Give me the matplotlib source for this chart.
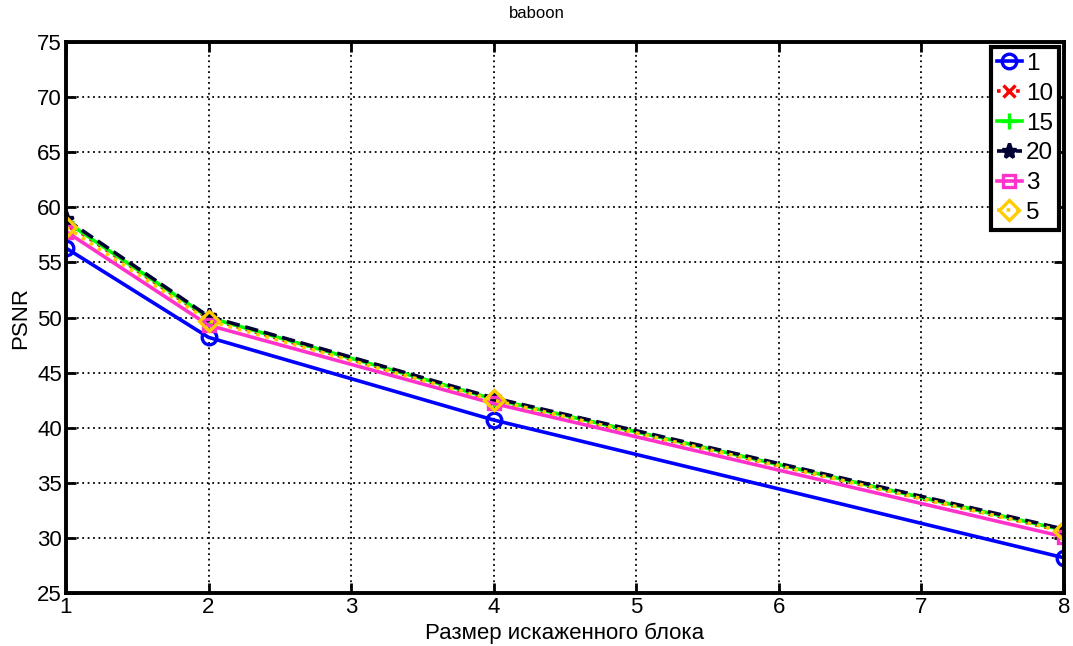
import matplotlib
matplotlib.use("Agg")
import matplotlib.pyplot as plt

plt.rcParams['font.family'] = ['Liberation Sans', 'DejaVu Sans']

block_sizes = [1, 2, 4, 8]
series_labels = ['1', '10', '15', '20', '3', '5']
psnr_1 = [56.3, 48.2, 40.7, 28.2]
psnr_10 = [58.6, 49.9, 42.5, 30.6]
psnr_15 = [58.7, 50.0, 42.6, 30.7]
psnr_20 = [58.9, 50.1, 42.7, 30.8]
psnr_3 = [57.8, 49.3, 42.2, 30.1]
psnr_5 = [58.2, 49.7, 42.5, 30.6]

x_ticks = [1, 2, 3, 4, 5, 6, 7, 8]
y_ticks = [25, 30, 35, 40, 45, 50, 55, 60, 65, 70, 75]

styles = [
    dict(color='#0000ff', linestyle='-', marker='o', mfc='none', markersize=10.5),
    dict(color='#ff0000', linestyle=':', marker='x', markersize=8.5),
    dict(color='#00ff00', linestyle='-', marker='+', markersize=11),
    dict(color='#000033', linestyle='--', marker='*', markersize=11),
    dict(color='#ff33cc', linestyle='-', marker='s', mfc='none', markersize=9),
    dict(color='#ffcc00', linestyle=':', marker='D', mfc='none', markersize=10.5),
]
all_series = [psnr_1, psnr_10, psnr_15, psnr_20, psnr_3, psnr_5]

fig = plt.figure(figsize=(10.73, 6.46), dpi=100)
ax = fig.add_axes([0.0615, 0.082, 0.930, 0.853])

for vals, lab, st in zip(all_series, series_labels, styles):
    ax.plot(block_sizes, vals, label=lab, linewidth=2.6,
            markeredgewidth=2.4, **st)

ax.set_xlim(1, 8)
ax.set_ylim(25, 75)
ax.set_xticks(x_ticks)
ax.set_yticks(y_ticks)
ax.grid(True, color='black', linestyle=(0, (1, 2)), linewidth=1.3)
ax.tick_params(direction='in', length=7, width=2, labelsize=16,
               top=True, right=True, pad=3)
for sp in ax.spines.values():
    sp.set_linewidth(2.8)

fig.text(0.5, 0.979, 'baboon', fontsize=12, ha='center', va='center')
ax.set_xlabel('Размер искаженного блока', fontsize=16, labelpad=3)
ax.set_ylabel('PSNR', fontsize=16, labelpad=4)

leg = ax.legend(loc='upper right', fontsize=17.5, handlelength=1.05,
                handletextpad=0.15, borderpad=0.25, labelspacing=0.32,
                borderaxespad=0.2, fancybox=False, framealpha=1)
leg.get_frame().set_edgecolor('black')
leg.get_frame().set_linewidth(3)

fig.savefig('out.png', dpi=100)
